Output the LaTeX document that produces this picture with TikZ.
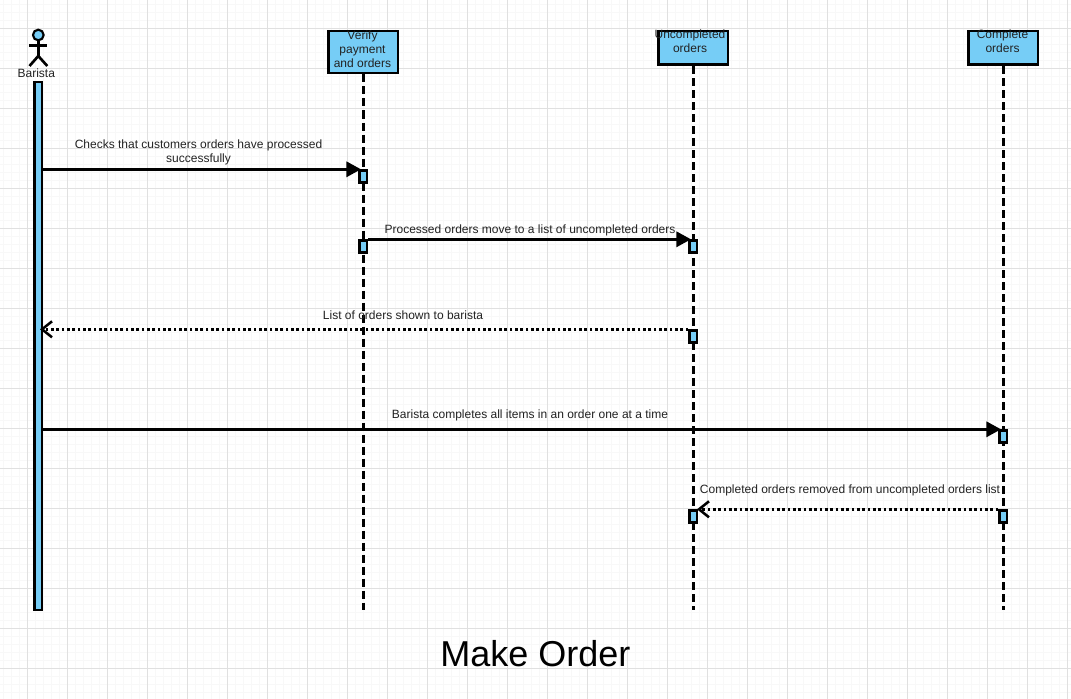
\documentclass[tikz,border=0pt]{standalone}
\usepackage{fontspec}
\setmainfont{Liberation Sans}
\usetikzlibrary{arrows.meta}
\definecolor{fillblue}{HTML}{76CDF6}
\definecolor{gmajor}{HTML}{E0E0E0}
\definecolor{gminor}{HTML}{F8F8F8}
\definecolor{txt}{HTML}{222222}
\tikzset{
  head/.style={draw=black,line width=2.1pt,fill=fillblue,minimum width=52pt,inner sep=0pt,anchor=north},
  act/.style={draw=black,line width=1.9pt,fill=fillblue,minimum width=5.6pt,minimum height=9pt,inner sep=0pt,anchor=north},
  life/.style={line width=2.1pt,dash pattern=on 6pt off 3pt},
  msg/.style={line width=1.9pt,shorten >=-2pt,-{Triangle[length=11pt,width=11.5pt]}},
  ret/.style={line width=1.9pt,dash pattern=on 2pt off 2pt,-{Straight Barb[length=7.5pt,width=12pt,line width=1.9pt]}},
  lab/.style={font=\fontsize{9}{10.6}\selectfont,text=txt,align=center,inner sep=0pt},
  person/.style={line width=2pt}
}
\begin{document}
\begin{tikzpicture}[x=0.75pt,y=-0.75pt]
\useasboundingbox (0,0) rectangle (1071,699);
\fill[white] (0,0) rectangle (1071,699);
% grid
\foreach \k in {0,...,133} {\draw[gminor,line width=0.5pt] ({3.5+8*\k},0) -- ({3.5+8*\k},699);}
\foreach \k in {0,...,87} {\draw[gminor,line width=0.5pt] (0,{4.5+8*\k}) -- (1071,{4.5+8*\k});}
\foreach \k in {0,...,26} {\draw[gmajor,line width=0.75pt] ({27.3+40*\k},0) -- ({27.3+40*\k},699);}
\foreach \k in {0,...,16} {\draw[gmajor,line width=0.75pt] (0,{28.3+40*\k}) -- (1071,{28.3+40*\k});}
% lifeline ends
\coordinate (vend) at (363.3,610);
\coordinate (uend) at (693.3,610);
\coordinate (cend) at (1003.3,610);
% heads
\node[head,minimum height=31.5pt] (v) at (363.3,29.7) {};
\node[head,minimum height=25.3pt] (u) at (693.3,29.7) {};
\node[head,minimum height=25.3pt] (c) at (1003.3,29.7) {};
\draw[life] (v.south) -- (vend);
\draw[life] (u.south) -- (uend);
\draw[life] (c.south) -- (cend);
\node[lab] (vt) at (362.5,49) {Verify\\payment\\and orders};
\node[lab] (ut) at (690,41.5) {Uncompleted\\orders};
\node[lab] (ct) at (1002.5,41.5) {Complete\\orders};
% actor
\node[draw=black,line width=1.6pt,fill=fillblue,circle,minimum size=8pt,inner sep=0pt] (ah) at (38.3,35) {};
\coordinate (ab) at (38.3,56);
\coordinate (al) at (29.3,45.7);
\coordinate (ar) at (47.3,45.7);
\coordinate (afl) at (29.5,66);
\coordinate (afr) at (47.3,66);
\draw[person] (ah.south) -- (ab);
\draw[person] (al) -- (ar);
\draw[person] (afl) -- (ab) -- (afr);
\node[lab] (bt) at (36.3,73) {Barista};
% barista bar
\node[draw=black,line width=1.9pt,fill=fillblue,minimum width=5.5pt,minimum height=396pt,inner sep=0pt,anchor=north] (bar) at (38.3,80.8) {};
% activations
\node[act] (a1) at (363.3,169.2) {};
\node[act] (a2) at (363.3,239.2) {};
\node[act] (a3) at (693.3,239.2) {};
\node[act] (a4) at (693.3,329.2) {};
\node[act] (a5) at (1003.3,429.2) {};
\node[act] (a6) at (693.3,509.2) {};
\node[act] (a7) at (1003.3,509.2) {};
% message points
\coordinate (s1) at (41,169.3);
\coordinate (s2) at (a2.north east |- 0,239.3);
\coordinate (s3) at (a4.north west |- 0,329.3);
\coordinate (s4) at (41,429.3);
\coordinate (s5) at (a7.north west |- 0,509.3);
\coordinate (b3) at (40,329.3);
% messages
\draw[msg] (s1) -- (a1.north west |- s1);
\draw[msg] (s2) -- (a3.north west |- s2);
\draw[ret] (s3) -- (b3);
\draw[msg] (s4) -- (a5.north west |- s4);
\draw[ret] (s5) -- ([xshift=-1pt]a6.north east |- s5);
% labels
\node[lab] (l1) at (198.5,152) {Checks that customers orders have processed\\successfully};
\node[lab] (l2) at (530,230.5) {Processed orders move to a list of uncompleted orders};
\node[lab] (l3) at (403,315.5) {List of orders shown to barista};
\node[lab] (l4) at (530,415.5) {Barista completes all items in an order one at a time};
\node[lab] (l5) at (850,490.5) {Completed orders removed from uncompleted orders list};
\node[lab,font=\fontsize{27}{32}\selectfont,text=black] (title) at (535.5,653.5) {Make Order};
\end{tikzpicture}
\end{document}
